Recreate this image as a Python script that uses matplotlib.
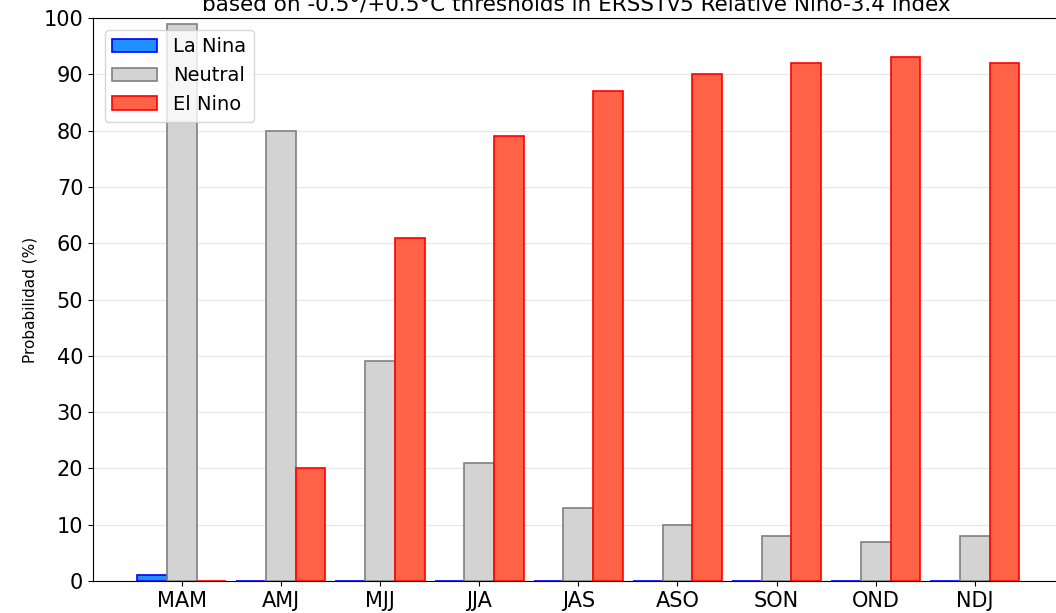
import numpy as np
import matplotlib.pyplot as plt

seasons = ["MAM", "AMJ", "MJJ", "JJA", "JAS", "ASO", "SON", "OND", "NDJ"]
la_nina = [1, 0, 0, 0, 0, 0, 0, 0, 0]
neutral = [99, 80, 39, 21, 13, 10, 8, 7, 8]
el_nino = [0, 20, 61, 79, 87, 90, 92, 93, 92]

fig = plt.figure(figsize=(10.56, 6.13), dpi=100)
# axes runs a bit past the right edge, as in the cropped original
ax = fig.add_axes([93 / 1056, 32 / 613, 970.6 / 1056, 563 / 613])

x = np.arange(len(seasons))
w = 0.3
ax.bar(x - w, la_nina, w, color="#1e90ff", edgecolor="blue", lw=1.2, label="La Nina", zorder=3)
ax.bar(x, neutral, w, color="lightgray", edgecolor="gray", lw=1.2, label="Neutral", zorder=3)
ax.bar(x + w, el_nino, w, color="tomato", edgecolor="red", lw=1.2, label="El Nino", zorder=3)

ax.set_ylim(0, 100)
ax.set_yticks(range(0, 101, 10))
ax.set_xticks(x)
ax.set_xticklabels(seasons)
ax.tick_params(labelsize=15)
ax.grid(axis="y", color="#e6e6e6", zorder=0)
ax.set_ylabel("Probabilidad (%)", fontsize=11)
ax.legend(loc="upper left", fontsize=14, handlelength=2.3, borderaxespad=0.6)

fig.text(0.546, 1 - 5 / 613, "based on -0.5°/+0.5°C thresholds in ERSSTv5 Relative Nino-3.4 index",
         ha="center", va="center", fontsize=15.5)

fig.savefig("out.png", dpi=100)
